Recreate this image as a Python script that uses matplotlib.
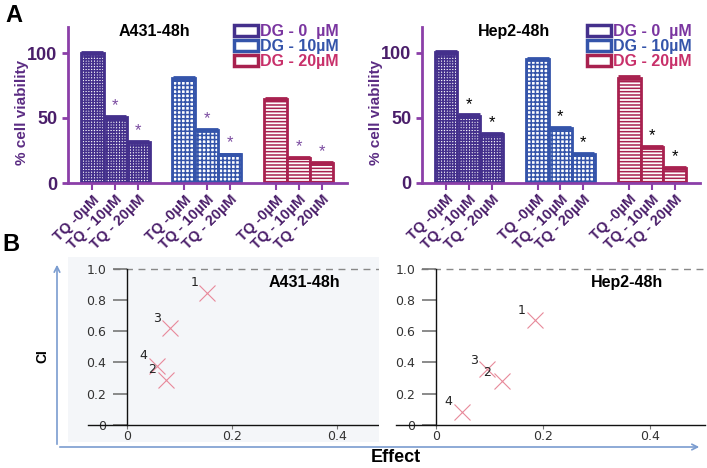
import matplotlib
matplotlib.use("Agg")
import matplotlib.pyplot as plt
from matplotlib.patches import Patch, FancyArrowPatch

plt.rcParams['font.family'] = ['Liberation Sans', 'DejaVu Sans']
plt.rcParams['hatch.linewidth'] = 1.1

W, H = 707, 468

# ---- data: panel A (% cell viability) ----
dg_labels = ["DG - 0  µM", "DG - 10µM", "DG - 20µM"]
tq_labels = ["TQ -0µM", "TQ - 10µM", "TQ - 20µM"]
a431_dg0 = [100, 50.5, 31.5]
a431_dg10 = [80.5, 41, 22]
a431_dg20 = [64.5, 19.5, 15.5]
hep2_dg0 = [100.5, 51.5, 37.5]
hep2_dg10 = [95.5, 42, 22]
hep2_dg20 = [81, 27.5, 11]
err_a431 = [[1.0, 1.2, 0.8], [1.0, 0.8, 0.6], [0.8, 0.6, 0.6]]
err_hep2 = [[1.2, 1.0, 0.6], [0.8, 0.8, 0.6], [1.2, 1.0, 0.6]]

# ---- data: panel B (combination index vs effect) ----
pt_ids = ["1", "2", "3", "4"]
a431_effect = [0.152, 0.074, 0.082, 0.057]
a431_ci = [0.847, 0.29, 0.62, 0.38]
hep2_effect = [0.185, 0.123, 0.095, 0.049]
hep2_ci = [0.67, 0.28, 0.36, 0.085]

edge_cols = ["#44308c", "#3454aa", "#a8214f"]
legend_cols = ["#7a35a0", "#3454aa", "#c8306a"]
hatches = ["++++++", "++++", "-----"]
axis_col = "#8b3fa8"
tick_col = "#4a1e6a"


def px_rect(x0, y0, x1, y1):
    return [x0 / W, 1 - y1 / H, (x1 - x0) / W, (y1 - y0) / H]


def bar_panel(ax, groups, errs, title, star_col, ylab_x, title_x):
    positions = []
    for g, (vals, err) in enumerate(zip(groups, errs)):
        xs = [g * 4 + i for i in range(3)]
        positions += xs
        ax.bar(xs, vals, width=1.0, color="white", edgecolor=edge_cols[g],
               hatch=hatches[g], linewidth=2, zorder=2)
        ax.errorbar(xs, vals, yerr=err, fmt="none", ecolor=edge_cols[g],
                    elinewidth=2, capsize=8, capthick=2, zorder=3)
        for i in (1, 2):
            ax.text(xs[i], vals[i] + 3, "*", ha="center", va="bottom",
                    fontsize=12, color=star_col)
    ax.set_xlim(-1.05, 11.1)
    ax.set_ylim(0, 120)
    ax.set_yticks([0, 50, 100])
    ax.set_xticks(positions)
    ax.set_xticklabels(tq_labels * 3, rotation=45, ha="right",
                       rotation_mode="anchor", fontsize=10.5,
                       fontweight="bold")
    for lab in ax.get_yticklabels():
        lab.set_fontweight("bold")
    ax.tick_params(axis="y", colors=axis_col, labelcolor=tick_col,
                   labelsize=13, width=2, length=4)
    ax.tick_params(axis="x", colors=axis_col, labelcolor=tick_col,
                   width=1.5, length=5, pad=2)
    for s in ("top", "right"):
        ax.spines[s].set_visible(False)
    for s in ("left", "bottom"):
        ax.spines[s].set_color(axis_col)
        ax.spines[s].set_linewidth(2)
    ax.set_ylabel("% cell viability", fontsize=11, fontweight="bold",
                  color="#5b2c83")
    ax.yaxis.set_label_coords(ylab_x, 0.45)
    ax.text(title_x, 0.97, title, transform=ax.transAxes, ha="center",
            va="center", fontsize=11.5, fontweight="bold")
    handles = [Patch(facecolor="white", edgecolor=c, linewidth=2.5)
               for c in edge_cols]
    ax.legend(handles, dg_labels, loc="upper right", bbox_to_anchor=(1.0, 1.07),
              frameon=False, borderpad=0, handlelength=1.5, handleheight=0.7,
              handletextpad=0.15, labelspacing=0.0,
              labelcolor=legend_cols,
              prop={"family": "Liberation Sans", "weight": "bold", "size": 11.5})


def ci_panel(ax, eff, ci, title, x0_px, x1_px, xzero_px, scale, face,
             label_offsets, dash_start):
    ax.set_facecolor(face)
    ax.set_xlim((x0_px - xzero_px) / scale, (x1_px - xzero_px) / scale)
    ax.set_ylim(-0.11, 1.075)
    ax.spines["top"].set_visible(False)
    ax.spines["right"].set_visible(False)
    ax.spines["left"].set_position(("data", 0))
    ax.spines["bottom"].set_position(("data", 0))
    ax.spines["left"].set_bounds(0, 1.0)
    ax.spines["bottom"].set_bounds(-0.075, ax.get_xlim()[1])
    for s in ("left", "bottom"):
        ax.spines[s].set_linewidth(1.0)
        ax.spines[s].set_color("#111111")
    ax.set_yticks([0, 0.2, 0.4, 0.6, 0.8, 1.0])
    ax.set_yticklabels(["0", "0.2", "0.4", "0.6", "0.8", "1.0"])
    ax.set_xticks([0, 0.2, 0.4])
    ax.set_xticklabels(["0", "0.2", "0.4"])
    ax.tick_params(axis="y", length=10, width=1.2, color="#777777",
                   labelsize=9, labelcolor="#333333", pad=5)
    ax.tick_params(axis="x", length=3, width=0.8, color="#777777",
                   labelsize=9, labelcolor="#333333", pad=1)
    for lab in ax.get_xticklabels() + ax.get_yticklabels():
        lab.set_family("DejaVu Sans")
    ax.axhline(1.0, xmin=dash_start, color="#888888", lw=1,
               dashes=(5, 4), zorder=1)
    ax.plot(eff, ci, linestyle="none", marker="x", markersize=11,
            mew=0.8, color="#e8899a", zorder=3)
    for e, c, t, (dx, dy) in zip(eff, ci, pt_ids, label_offsets):
        ax.annotate(t, (e, c), xytext=(dx, dy), textcoords="offset pixels",
                    ha="center", va="center", fontsize=9, color="#222222",
                    family="DejaVu Sans")
    ax.text(0.76, 0.86, title, transform=ax.transAxes, ha="center",
            va="center", fontsize=11.5, fontweight="bold")


fig = plt.figure(figsize=(W / 100, H / 100), dpi=100)

ax1 = fig.add_axes(px_rect(68, 27, 347, 183))
bar_panel(ax1, [a431_dg0, a431_dg10, a431_dg20], err_a431, "A431-48h",
          "#7b4ba0", -0.14, 0.31)
ax2 = fig.add_axes(px_rect(422, 27, 700, 182.5))
bar_panel(ax2, [hep2_dg0, hep2_dg10, hep2_dg20], err_hep2, "Hep2-48h",
          "black", -0.14, 0.33)

ax3 = fig.add_axes(px_rect(68, 257, 379, 442))
ci_panel(ax3, a431_effect, a431_ci, "A431-48h", 68, 379, 127, 525,
         "#f4f6f9", [(-12, 10), (-14, 10), (-13, 10), (-14, 10)], 0.145)
ax4 = fig.add_axes(px_rect(379, 257, 705, 442))
ci_panel(ax4, hep2_effect, hep2_ci, "Hep2-48h", 379, 705, 436, 535,
         "white", [(-13, 10), (-15, 9), (-13, 8), (-14, 10)], 0.13)

# outer blue arrow frame of panel B
arrow_kw = dict(arrowstyle="->", mutation_scale=10, color="#7a9cd0",
                lw=1.2, transform=fig.transFigure)
fig.add_artist(FancyArrowPatch((57 / W, 1 - 447 / H), (57 / W, 1 - 262 / H),
                               **arrow_kw))
fig.add_artist(FancyArrowPatch((57 / W, 1 - 447 / H), (702 / W, 1 - 447 / H),
                               **arrow_kw))
fig.text(42 / W, 1 - 356 / H, "CI", rotation=90, ha="center", va="center",
         fontsize=10, fontweight="bold")
fig.text(396 / W, 1 - 457 / H, "Effect", ha="center", va="center",
         fontsize=13, fontweight="bold")

fig.text(14 / W, 1 - 16 / H, "A", ha="center", va="center", fontsize=17,
         fontweight="bold")
fig.text(11 / W, 1 - 244 / H, "B", ha="center", va="center", fontsize=17,
         fontweight="bold")

fig.savefig("out.png", dpi=100)
